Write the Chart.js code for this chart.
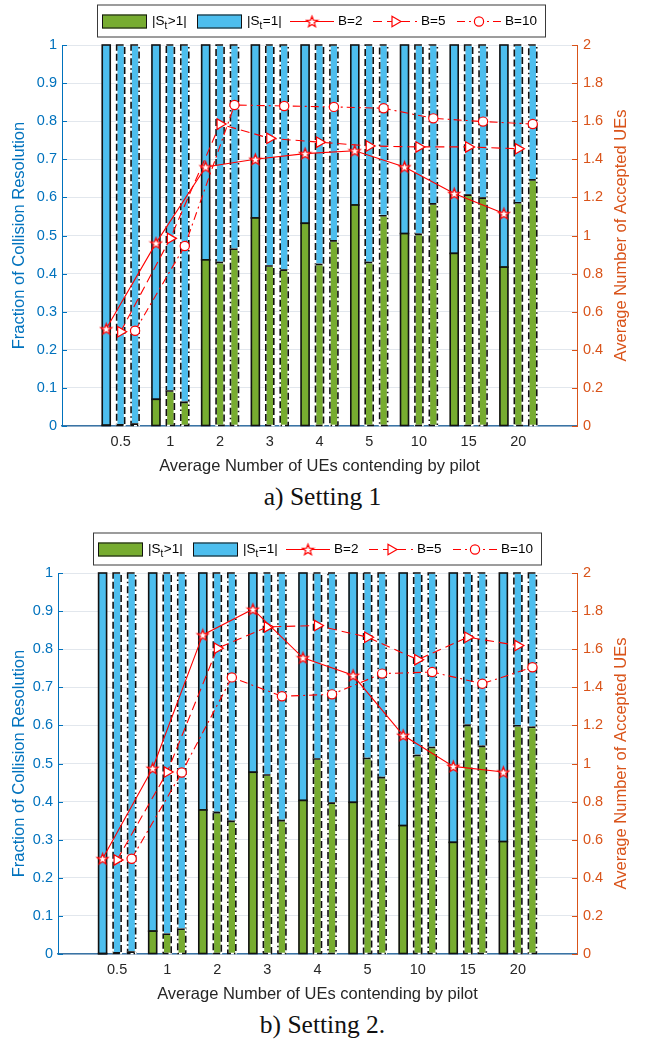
<!DOCTYPE html>
<html>
<head>
<meta charset="utf-8">
<script src="https://cdn.jsdelivr.net/npm/chart.js@4/dist/chart.umd.min.js"></script>
<style>
  html, body { margin: 0; padding: 0; background: #fff; }
  #page { position: relative; width: 645px; height: 1043px; overflow: hidden; }
  .plot { position: absolute; left: 0; width: 645px; height: 480px; }
  .plot canvas { display: block; }
  .cap { position: absolute; left: 0; width: 645px; text-align: center;
         font-family: "Liberation Serif", "Times New Roman", serif; font-size: 25.5px;
         line-height: 30px; color: #111; }
</style>
</head>
<body>
<div id="page">
  <div class="plot" style="top:0px"><canvas id="c1" width="645" height="480"></canvas></div>
  <div class="cap" style="top:482px">a) Setting 1</div>
  <div class="plot" style="top:528px"><canvas id="c2" width="645" height="480"></canvas></div>
  <div class="cap" style="top:1010px">b) Setting 2.</div>
</div>
<script>
// ---- categories and tick labels ----
const groupLabels = ['0.5', '1', '2', '3', '4', '5', '10', '15', '20'];
const leftTickLabels = ['0', '0.1', '0.2', '0.3', '0.4', '0.5', '0.6', '0.7', '0.8', '0.9', '1'];
const rightTickLabels = ['0', '0.2', '0.4', '0.6', '0.8', '1', '1.2', '1.4', '1.6', '1.8', '2'];
const seriesNames = ['B=2', 'B=5', 'B=10'];

// ---- Setting 1: fraction with |St>1| and |St=1| per B ----
const s1MultiB2  = [0.002, 0.070, 0.436, 0.546, 0.532, 0.580, 0.505, 0.453, 0.417];
const s1MultiB5  = [0.003, 0.092, 0.429, 0.420, 0.424, 0.429, 0.503, 0.606, 0.586];
const s1MultiB10 = [0.005, 0.062, 0.464, 0.409, 0.486, 0.552, 0.583, 0.598, 0.646];
const s1SingleB2  = [0.998, 0.930, 0.564, 0.454, 0.468, 0.420, 0.495, 0.547, 0.583];
const s1SingleB5  = [0.997, 0.908, 0.571, 0.580, 0.576, 0.571, 0.497, 0.394, 0.414];
const s1SingleB10 = [0.995, 0.938, 0.536, 0.591, 0.514, 0.448, 0.417, 0.402, 0.354];
// Setting 1: average number of accepted UEs
const s1AcceptedB2  = [0.510, 0.960, 1.360, 1.400, 1.430, 1.445, 1.360, 1.220, 1.115];
const s1AcceptedB5  = [0.495, 0.985, 1.585, 1.510, 1.490, 1.470, 1.465, 1.465, 1.455];
const s1AcceptedB10 = [0.500, 0.945, 1.685, 1.680, 1.675, 1.668, 1.615, 1.598, 1.585];

// ---- Setting 2 ----
const s2MultiB2  = [0.001, 0.060, 0.378, 0.477, 0.403, 0.398, 0.337, 0.293, 0.295];
const s2MultiB5  = [0.003, 0.052, 0.371, 0.470, 0.512, 0.513, 0.521, 0.600, 0.599];
const s2MultiB10 = [0.005, 0.065, 0.348, 0.350, 0.396, 0.463, 0.542, 0.545, 0.595];
const s2SingleB2  = [0.999, 0.940, 0.622, 0.523, 0.597, 0.602, 0.663, 0.707, 0.705];
const s2SingleB5  = [0.997, 0.948, 0.629, 0.530, 0.488, 0.487, 0.479, 0.400, 0.401];
const s2SingleB10 = [0.995, 0.935, 0.652, 0.650, 0.604, 0.537, 0.458, 0.455, 0.405];
const s2AcceptedB2  = [0.500, 0.975, 1.675, 1.810, 1.555, 1.463, 1.148, 0.985, 0.955];
const s2AcceptedB5  = [0.494, 0.955, 1.605, 1.717, 1.724, 1.663, 1.545, 1.663, 1.619];
const s2AcceptedB10 = [0.500, 0.953, 1.452, 1.353, 1.363, 1.472, 1.480, 1.419, 1.505];

// ---- styling ----
const FONT = '"Liberation Sans", Arial, Helvetica, sans-serif';
const BLUE_AX = '#0072BD';
const ORANGE_AX = '#D95319';
const GREEN = '#77AC30';
const CYAN = '#4DBEEE';
const RED = '#FF0000';
const BAR_STEP = 0.29;          // offset between the three bars of a group (x units)
const X_MIN = -0.18, X_MAX = 10.18;
const BAR_DASH = [[], [7, 3], [7, 3, 1.5, 3]];
const LINE_DASH = [[], [9, 5], [8, 4, 2, 4]];

Chart.defaults.font.family = FONT;
Chart.defaults.animation = false;

function starMarker() {
  const c = document.createElement('canvas');
  c.width = 15; c.height = 15;
  const g = c.getContext('2d');
  const cx = 7.5, cy = 8, R = 5.8, r = 2.4;
  g.beginPath();
  for (let i = 0; i < 10; i++) {
    const rad = (i % 2 === 0) ? R : r;
    const a = -Math.PI / 2 + i * Math.PI / 5;
    const px = cx + rad * Math.cos(a), py = cy + rad * Math.sin(a);
    if (i === 0) g.moveTo(px, py); else g.lineTo(px, py);
  }
  g.closePath();
  g.fillStyle = '#fff'; g.fill();
  g.strokeStyle = RED; g.lineWidth = 1.2; g.stroke();
  return c;
}
const STAR = starMarker();
const MARKERS = [
  { pointStyle: STAR, pointRadius: 5, pointRotation: 0 },
  { pointStyle: 'triangle', pointRadius: 6, pointRotation: 90 },
  { pointStyle: 'circle', pointRadius: 4.6, pointRotation: 0 }
];

// dashed / dash-dotted outlines of each bar segment
const barOutline = {
  id: 'barOutline',
  afterDatasetDraw(chart, args) {
    if (args.meta.type !== 'bar') return;
    const ctx = chart.ctx;
    ctx.save();
    args.meta.data.forEach((el, i) => {
      const p = el.getProps(['x', 'y', 'base', 'width'], true);
      const k = i % 3;
      const l = p.x - p.width / 2, t = Math.min(p.y, p.base);
      const h = Math.abs(p.base - p.y);
      ctx.lineWidth = 1.6;
      if (k > 0) {
        ctx.setLineDash([]);
        ctx.strokeStyle = '#ffffff';
        ctx.strokeRect(l, t, p.width, h);
      }
      ctx.setLineDash(BAR_DASH[k]);
      ctx.strokeStyle = '#111';
      ctx.strokeRect(l, t, p.width, h);
    });
    ctx.restore();
  }
};

// inward tick marks on both value axes, right axis title
const axisDecor = {
  id: 'axisDecor',
  afterDraw(chart) {
    const { ctx, chartArea: { left, right, top, bottom } } = chart;
    const y = chart.scales.y, y1 = chart.scales.y1;
    ctx.save();
    ctx.lineWidth = 1;
    ctx.strokeStyle = BLUE_AX;
    y.ticks.forEach(t => {
      const py = Math.round(y.getPixelForValue(t.value)) + 0.5;
      ctx.beginPath(); ctx.moveTo(left, py); ctx.lineTo(left + 5, py); ctx.stroke();
    });
    ctx.strokeStyle = ORANGE_AX;
    y1.ticks.forEach(t => {
      const py = Math.round(y1.getPixelForValue(t.value)) + 0.5;
      ctx.beginPath(); ctx.moveTo(right - 5, py); ctx.lineTo(right, py); ctx.stroke();
    });
    ctx.translate(chart.width - 24, (top + bottom) / 2);
    ctx.rotate(-Math.PI / 2);
    ctx.fillStyle = ORANGE_AX;
    ctx.font = '16.5px ' + FONT;
    ctx.textAlign = 'center';
    ctx.textBaseline = 'middle';
    ctx.fillText('Average Number of Accepted UEs', 0, 0);
    ctx.restore();
  }
};

// boxed legend above the plot
const boxLegend = {
  id: 'boxLegend',
  afterDraw(chart) {
    const ctx = chart.ctx;
    const bx = chart.chartArea.left + 35, by = 4.5, bw = 448, bh = 32;
    const cy = by + 17;
    ctx.save();
    ctx.fillStyle = '#fff';
    ctx.fillRect(bx, by, bw, bh);
    ctx.strokeStyle = '#3a3a3a'; ctx.lineWidth = 1;
    ctx.strokeRect(bx + 0.5, by + 0.5, bw, bh);

    const ds = chart.data.datasets;
    const bars = ds.filter(d => d.type === 'bar');
    const lines = ds.filter(d => d.type === 'line');
    const swX = [bx + 5, bx + 100];
    const subText = (x, rel) => {
      ctx.fillStyle = '#000';
      ctx.textBaseline = 'middle';
      ctx.textAlign = 'left';
      ctx.font = '13.5px ' + FONT;
      ctx.fillText('|S', x, cy);
      let w = ctx.measureText('|S').width;
      ctx.font = '10px ' + FONT;
      ctx.fillText('t', x + w, cy + 5);
      w += ctx.measureText('t').width + 0.5;
      ctx.font = '13.5px ' + FONT;
      ctx.fillText(rel + '1|', x + w, cy);
    };
    bars.forEach((d, i) => {
      ctx.fillStyle = d.backgroundColor;
      ctx.fillRect(swX[i], cy - 7, 45, 14);
      ctx.strokeStyle = '#111'; ctx.lineWidth = 1;
      ctx.strokeRect(swX[i] + 0.5, cy - 6.5, 44, 13);
      subText(swX[i] + 50, d.relation);
    });
    const lx = [bx + 193, bx + 276, bx + 360];
    lines.forEach((d, i) => {
      ctx.strokeStyle = d.borderColor; ctx.lineWidth = d.borderWidth;
      ctx.setLineDash(d.borderDash);
      ctx.beginPath(); ctx.moveTo(lx[i], cy); ctx.lineTo(lx[i] + 44, cy); ctx.stroke();
      ctx.setLineDash([]);
      ctx.fillStyle = '#fff'; ctx.strokeStyle = RED; ctx.lineWidth = 1.2;
      Chart.helpers.drawPoint(ctx, {
        pointStyle: d.pointStyle, rotation: d.pointRotation,
        radius: d.pointRadius, borderWidth: 1.2
      }, lx[i] + 22, cy);
      ctx.fillStyle = '#000';
      ctx.font = '13.5px ' + FONT;
      ctx.textBaseline = 'middle'; ctx.textAlign = 'left';
      ctx.fillText(d.label, lx[i] + 48, cy);
    });
    ctx.restore();
  }
};

function groupX(g, k) { return (g + 1) + (k - 1) * BAR_STEP; }

function buildChart(id, multi, single, accepted, plotLeft) {
  const plotRight = 577, plotBottom = 426, plotTop = 45;
  const H = 480;
  const multiPts = [], singlePts = [];
  for (let g = 0; g < groupLabels.length; g++) {
    for (let k = 0; k < 3; k++) {
      multiPts.push({ x: groupX(g, k), y: multi[k][g] });
      singlePts.push({ x: groupX(g, k), y: single[k][g] });
    }
  }
  const lineSets = accepted.map((vals, k) => Object.assign({
    type: 'line',
    label: seriesNames[k],
    data: vals.map((v, g) => ({ x: groupX(g, k), y: v })),
    yAxisID: 'y1',
    borderColor: RED,
    borderWidth: 1.1,
    borderDash: LINE_DASH[k],
    pointBorderColor: RED,
    pointBackgroundColor: '#fff',
    pointBorderWidth: 1.2,
    tension: 0,
    order: 1
  }, MARKERS[k]));

  const tickFont = { size: 14.5 };
  return new Chart(document.getElementById(id), {
    data: {
      datasets: [
        ...lineSets,
        { type: 'bar', label: '|St>1|', relation: '>', data: multiPts, yAxisID: 'y',
          backgroundColor: GREEN, borderWidth: 0, barThickness: 8, stack: 's', order: 2 },
        { type: 'bar', label: '|St=1|', relation: '=', data: singlePts, yAxisID: 'y',
          backgroundColor: CYAN, borderWidth: 0, barThickness: 8, stack: 's', order: 2 }
      ]
    },
    options: {
      responsive: false,
      layout: { padding: { top: plotTop, left: 0, right: 0, bottom: 0 } },
      plugins: { legend: { display: false }, tooltip: { enabled: false } },
      scales: {
        x: {
          type: 'linear', min: X_MIN, max: X_MAX, offset: false, stacked: true,
          grid: { display: false, drawTicks: false },
          border: { display: true, color: '#3a74a5', width: 1.6 },
          afterBuildTicks: s => { s.ticks = groupLabels.map((_, i) => ({ value: i + 1 })); },
          ticks: { autoSkip: false, maxRotation: 0, padding: 7, color: '#262626', font: tickFont,
                   callback: v => groupLabels[Math.round(v) - 1] },
          title: { display: true, text: 'Average Number of UEs contending by pilot',
                   color: '#262626', font: { size: 16.5 }, padding: { top: 0, bottom: 4 } },
          afterFit: s => { s.height = H - plotBottom; }
        },
        y: {
          type: 'linear', position: 'left', min: 0, max: 1, stacked: true,
          afterBuildTicks: s => { s.ticks = leftTickLabels.map(t => ({ value: Number(t) })); },
          ticks: { color: BLUE_AX, font: tickFont, padding: 5,
                   callback: (v, i) => leftTickLabels[i] },
          grid: { color: '#e2e7ed', drawTicks: false, lineWidth: 1 },
          border: { display: true, color: BLUE_AX, width: 1 },
          title: { display: true, text: 'Fraction of Collision Resolution', color: BLUE_AX,
                   font: { size: 16.5 }, padding: { top: 10, bottom: 0 } },
          afterFit: s => { s.width = plotLeft; }
        },
        y1: {
          type: 'linear', position: 'right', min: 0, max: 2, stacked: false,
          afterBuildTicks: s => { s.ticks = rightTickLabels.map(t => ({ value: Number(t) })); },
          ticks: { color: ORANGE_AX, font: tickFont, padding: 6,
                   callback: (v, i) => rightTickLabels[i] },
          grid: { display: false, drawTicks: false },
          border: { display: true, color: ORANGE_AX, width: 1 },
          afterFit: s => { s.width = 645 - plotRight; }
        }
      }
    },
    plugins: [barOutline, axisDecor, boxLegend]
  });
}

buildChart('c1',
  [s1MultiB2, s1MultiB5, s1MultiB10],
  [s1SingleB2, s1SingleB5, s1SingleB10],
  [s1AcceptedB2, s1AcceptedB5, s1AcceptedB10], 62);
buildChart('c2',
  [s2MultiB2, s2MultiB5, s2MultiB10],
  [s2SingleB2, s2SingleB5, s2SingleB10],
  [s2AcceptedB2, s2AcceptedB5, s2AcceptedB10], 58);
</script>
</body>
</html>
